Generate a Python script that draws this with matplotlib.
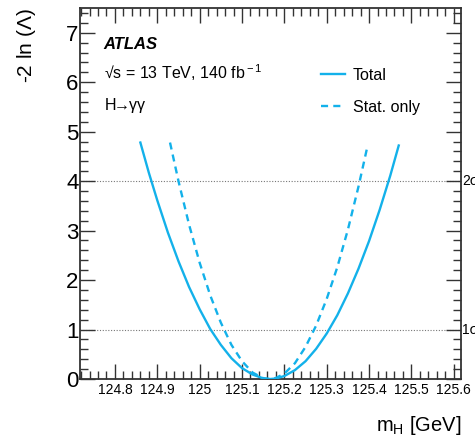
import matplotlib
matplotlib.use("Agg")
import matplotlib.pyplot as plt
from matplotlib.ticker import MultipleLocator, FixedLocator

plt.rcParams['font.family'] = ['Liberation Sans', 'DejaVu Sans']
plt.rcParams['mathtext.fontset'] = 'custom'
plt.rcParams['mathtext.rm'] = 'Liberation Sans'
plt.rcParams['mathtext.it'] = 'Liberation Sans:italic'

# Total (stat + syst) profile likelihood scan
total_m = [124.86, 124.88, 124.90, 124.925, 124.95, 124.975, 125.00, 125.025, 125.05,
           125.075, 125.10, 125.125, 125.15, 125.166, 125.18, 125.20, 125.225, 125.25,
           125.275, 125.30, 125.325, 125.35, 125.375, 125.40, 125.425, 125.45, 125.47]
total_nll = [4.78, 4.17, 3.61, 2.96, 2.38, 1.86, 1.41, 1.01, 0.69,
             0.42, 0.22, 0.09, 0.013, 0.0, 0.01, 0.06, 0.18, 0.36,
             0.61, 0.92, 1.29, 1.73, 2.23, 2.79, 3.42, 4.11, 4.72]

# Statistical-only scan
stat_m = [124.93, 124.95, 124.975, 125.00, 125.025, 125.05, 125.075, 125.10, 125.125,
          125.15, 125.164, 125.18, 125.20, 125.225, 125.25, 125.275, 125.30, 125.325,
          125.35, 125.375, 125.395]
stat_nll = [4.78, 4.00, 3.12, 2.35, 1.69, 1.14, 0.69, 0.36, 0.13,
            0.017, 0.0, 0.02, 0.11, 0.32, 0.65, 1.08, 1.62, 2.26,
            3.02, 3.89, 4.66]

sigma_levels = [1, 4]
sigma_labels = ['1σ', '2σ']

color = '#13b1ea'

fig = plt.figure(figsize=(4.75, 4.44), dpi=100)
ax = fig.add_axes([0.168, 0.1464, 0.8025, 0.8356])

for lvl, lab in zip(sigma_levels, sigma_labels):
    ax.axhline(lvl, color='#777777', lw=0.8, ls=(0, (1, 1.5)), zorder=1)
    ax.text(1.003, lvl, lab, transform=ax.get_yaxis_transform(), fontsize=10,
            va='center', ha='left', clip_on=False)

ax.plot(total_m, total_nll, color=color, lw=1.7, label='Total', zorder=3)
ax.plot(stat_m, stat_nll, color=color, lw=1.7, ls=(0, (3, 2.2)), label='Stat. only', zorder=3)

ax.set_xlim(124.717, 125.617)
ax.set_ylim(0, 7.5)

ax.xaxis.set_major_locator(FixedLocator([124.8, 124.9, 125.0, 125.1, 125.2, 125.3, 125.4, 125.5, 125.6]))
ax.set_xticklabels(['124.8', '124.9', '125', '125.1', '125.2', '125.3', '125.4', '125.5', '125.6'])
ax.xaxis.set_minor_locator(MultipleLocator(0.02))
ax.yaxis.set_major_locator(MultipleLocator(1))
ax.yaxis.set_minor_locator(MultipleLocator(0.2))

ax.tick_params(which='both', direction='in', top=True, right=True, width=1.0, color='#333333')
ax.tick_params(which='major', length=11)
ax.tick_params(which='minor', length=5.5)
ax.tick_params(axis='x', which='major', labelsize=10, pad=3)
ax.tick_params(axis='y', which='major', labelsize=16, pad=1)
for s in ax.spines.values():
    s.set_linewidth(1.3)
    s.set_color('#333333')

ax.set_xlabel(r'm$_{\rm H}$ [GeV]', fontsize=14.5, loc='right', labelpad=12)
ax.set_ylabel(r'-2 ln ($\Lambda$)', fontsize=15, loc='top', labelpad=20)

ax.text(0.063, 0.902, 'ATLAS', transform=ax.transAxes, fontsize=12,
        fontweight='bold', fontstyle='italic', va='center')
ax.text(0.063, 0.827, '√s = 13 TeV, 140 fb$^{\\rm -1}$', transform=ax.transAxes,
        fontsize=11.5, va='center')
ax.text(0.063, 0.737, 'H$\\!\\!\\rightarrow\\!\\!$γγ', transform=ax.transAxes,
        fontsize=11.5, va='center')

leg = ax.legend(loc='upper left', bbox_to_anchor=(0.595, 0.877), frameon=False,
                fontsize=11.5, handlelength=1.5, handletextpad=0.5, labelspacing=1.05)

fig.savefig('out.png', dpi=100)
